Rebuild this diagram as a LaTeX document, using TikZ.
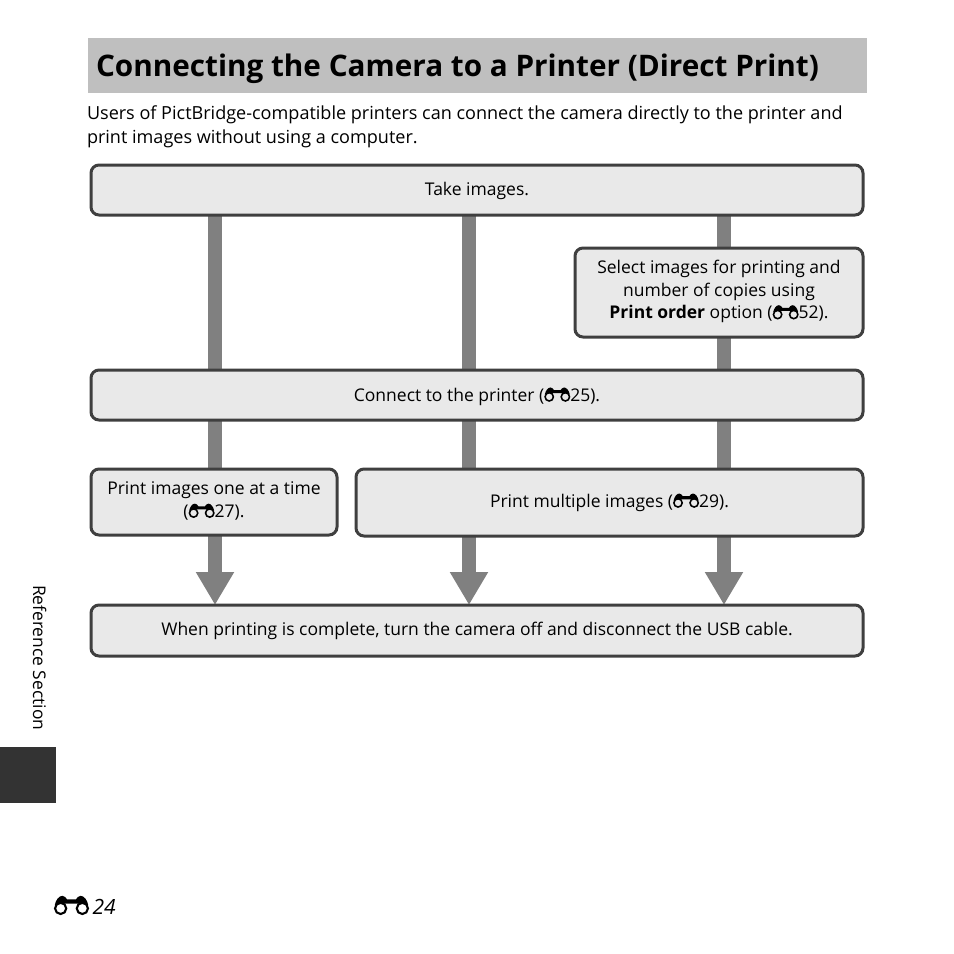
\documentclass[tikz,border=0pt]{standalone}
\usepackage{fontspec}
\setmainfont{Open Sans}
\usetikzlibrary{arrows.meta,backgrounds}
\definecolor{boxfill}{HTML}{E9E9E9}
\definecolor{boxline}{HTML}{3F3F3F}
\definecolor{barcol}{HTML}{808080}
\definecolor{bandcol}{HTML}{BFBFBF}
\definecolor{tabcol}{HTML}{333333}
\newcommand{\binoc}[1]{\begin{pgfpicture}%
\pgfsetcornersarced{\pgfpointorigin}%
\pgfsetxvec{\pgfpoint{#1}{0pt}}\pgfsetyvec{\pgfpoint{0pt}{#1}}%
\pgfpathrectangle{\pgfpointxy{0}{0}}{\pgfpointxy{1}{0.42}}\pgfusepath{use as bounding box}%
\pgfsetlinewidth{0.06*#1}%
\pgfpathcircle{\pgfpointxy{.19}{.16}}{.16*#1}\pgfpathcircle{\pgfpointxy{.81}{.16}}{.16*#1}\pgfusepath{stroke}%
\pgfpathmoveto{\pgfpointxy{.02}{.25}}%
\pgfpathcurveto{\pgfpointxy{.05}{.4}}{\pgfpointxy{.14}{.52}}{\pgfpointxy{.24}{.52}}%
\pgfpathcurveto{\pgfpointxy{.31}{.52}}{\pgfpointxy{.34}{.46}}{\pgfpointxy{.37}{.42}}%
\pgfpathlineto{\pgfpointxy{.63}{.42}}%
\pgfpathcurveto{\pgfpointxy{.66}{.46}}{\pgfpointxy{.69}{.52}}{\pgfpointxy{.76}{.52}}%
\pgfpathcurveto{\pgfpointxy{.86}{.52}}{\pgfpointxy{.95}{.4}}{\pgfpointxy{.98}{.25}}%
\pgfpathlineto{\pgfpointxy{.8}{.3}}\pgfpathlineto{\pgfpointxy{.2}{.3}}\pgfpathclose%
\pgfusepath{fill}%
\end{pgfpicture}}
\newcommand{\ico}{\binoc{26pt}}
\newcommand{\vc}[1]{\rule[\dimexpr#1pt-15pt\relax]{0pt}{30pt}}
\tikzset{
 every node/.style={inner sep=0pt,outer sep=0pt},
 flow/.style={draw=boxline,line width=3pt,fill=boxfill,rounded corners=8pt,align=center,font=\fontsize{17.5}{22.5}\selectfont,anchor=north west},
 bar/.style={draw=barcol,line width=14pt},
 tipbar/.style={bar,-{Triangle[width=36pt,length=33pt]}},
}
\begin{document}
\begin{tikzpicture}[x=1pt,y=-1pt]
\useasboundingbox (0,0) rectangle (954,954);
\node[fill=bandcol,anchor=north west,minimum width=779pt,minimum height=55pt] (band) at (88,38) {};
\node[anchor=base west,font=\fontsize{29.7}{34}\selectfont\bfseries] (title) at (96,76) {Connecting the Camera to a Printer (Direct Print)};
\node[anchor=north west,align=left,font=\fontsize{18.05}{24}\selectfont] (intro) at (87,106) {Users of PictBridge-compatible printers can connect the camera directly to the printer and\\print images without using a computer.};
\node[flow,minimum width=772pt,minimum height=50pt] (take) at (91,165) {\vc{5}Take images.};
\node[flow,minimum width=288pt,minimum height=89pt] (sel) at (575,248) {Select images for printing and\\number of copies using\\\textbf{Print order} option (\ico52).\rule[-6pt]{0pt}{6pt}};
\node[flow,minimum width=772pt,minimum height=50pt] (conn) at (91,370) {\vc{6}Connect to the printer (\ico25).};
\node[flow,minimum width=246pt,minimum height=66pt] (one) at (91,469) {Print images one at a time\\(\ico27).\rule[-5pt]{0pt}{5pt}};
\node[flow,minimum width=507pt,minimum height=67pt] (multi) at (356,469) {Print multiple images (\ico29).};
\node[flow,minimum width=772pt,minimum height=51pt] (final) at (91,605) {When printing is complete, turn the camera off and disconnect the USB cable.};
\coordinate (c1) at (215,0);
\coordinate (c2) at (469,0);
\coordinate (c3) at (724,0);
\begin{scope}[on background layer]
\fill[white] (0,0) rectangle (954,954);
\draw[bar] (take.south -| c1) -- (conn.north -| c1);
\draw[bar] (conn.south -| c1) -- (one.north -| c1);
\draw[tipbar] (one.south -| c1) -- (final.north -| c1);
\draw[bar] (take.south -| c2) -- (conn.north -| c2);
\draw[bar] (conn.south -| c2) -- (multi.north -| c2);
\draw[tipbar] (multi.south -| c2) -- (final.north -| c2);
\draw[bar] (take.south -| c3) -- (sel.north -| c3);
\draw[bar] (sel.south -| c3) -- (conn.north -| c3);
\draw[bar] (conn.south -| c3) -- (multi.north -| c3);
\draw[tipbar] (multi.south -| c3) -- (final.north -| c3);
\end{scope}
\node[fill=tabcol,anchor=north west,minimum width=56pt,minimum height=56pt] (tab) at (0,747) {};
\node[rotate=-90,anchor=base west,font=\fontsize{17.4}{20}\selectfont] (side) at (33,585) {Reference Section};
\node[anchor=base west,font=\fontsize{21}{26}\selectfont\itshape] (page) at (54,914) {\binoc{35pt}\,24};
\end{tikzpicture}
\end{document}
